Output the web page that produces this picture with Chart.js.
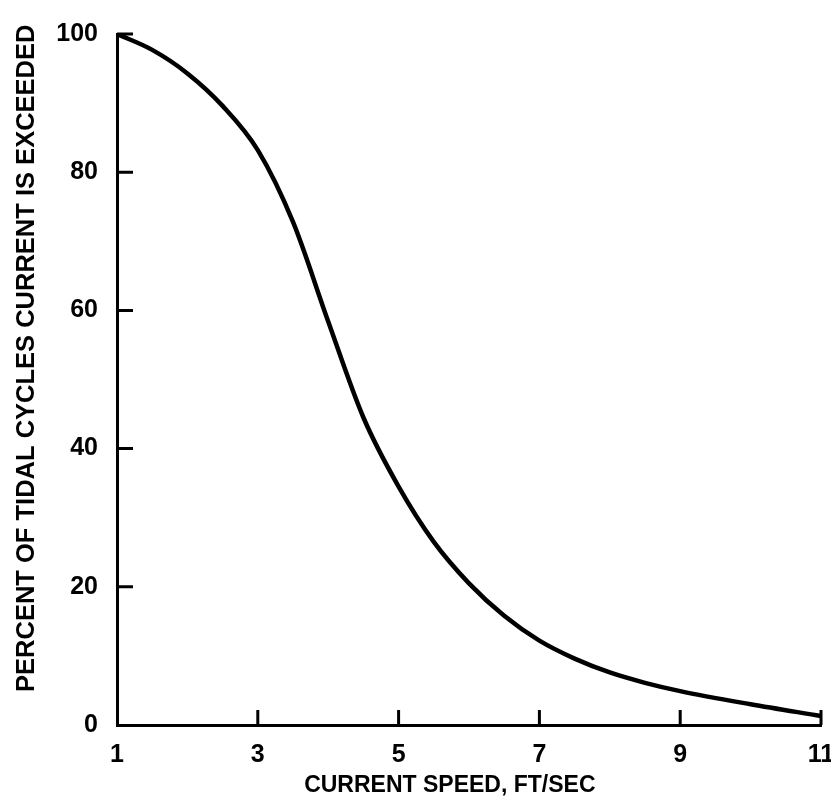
<!DOCTYPE html>
<html>
<head>
<meta charset="utf-8">
<script src="https://cdn.jsdelivr.net/npm/chart.js@4"></script>
<style>
  html, body { margin: 0; padding: 0; background: #fff; }
  #wrap { width: 831px; height: 805px; }
</style>
</head>
<body>
<div id="wrap"><canvas id="chart"></canvas></div>
<script>
// current speed (ft/sec) vs percent of tidal cycles exceeded
const speeds = [1, 1.5, 2, 2.5, 3, 3.5, 4, 4.5, 5, 5.5, 6, 6.5, 7, 7.5, 8, 8.5, 9, 10, 11]
const percents = [100, 97.7, 94.3, 89.6, 83.2, 72.8, 58.4, 44.5, 34.5, 26.5, 20.5, 15.8, 12.2, 9.6, 7.6, 6.1, 4.9, 3.0, 1.3]
const xTicks = [1, 3, 5, 7, 9, 11]
const yTicks = [0, 20, 40, 60, 80, 100]

const FONT = "'Liberation Sans', Arial, Helvetica, sans-serif"

// inward tick marks like the original drawing
const inwardTicks = {
  id: "inwardTicks",
  afterDraw(chart) {
    const { ctx, scales: { x, y } } = chart
    ctx.save()
    ctx.strokeStyle = "#000"
    ctx.lineWidth = 3
    ctx.beginPath()
    xTicks.slice(1).forEach((v) => {
      const px = x.getPixelForValue(v)
      ctx.moveTo(px, y.bottom)
      ctx.lineTo(px, y.bottom - 15)
    })
    yTicks.slice(1).forEach((v) => {
      const py = y.getPixelForValue(v)
      ctx.moveTo(x.left, py)
      ctx.lineTo(x.left + 16, py)
    })
    ctx.stroke()
    ctx.restore()
  },
}

const ctx = document.getElementById("chart").getContext("2d")
new Chart(ctx, {
  type: "line",
  data: {
    datasets: [
      {
        data: speeds.map((s, i) => ({ x: s, y: percents[i] })),
        borderColor: "#000",
        borderWidth: 4.5,
        pointRadius: 0,
        fill: false,
        cubicInterpolationMode: "monotone",
      },
    ],
  },
  options: {
    responsive: true,
    maintainAspectRatio: false,
    animation: false,
    layout: { padding: { top: 31, right: 10, left: 0, bottom: 0 } },
    plugins: { legend: { display: false }, tooltip: { enabled: false } },
    scales: {
      x: {
        type: "linear",
        min: 1,
        max: 11,
        afterBuildTicks: (scale) => { scale.ticks = xTicks.map((v) => ({ value: v })) },
        afterFit: (scale) => {
          scale.height = 80
          scale.paddingLeft = 0
          scale.paddingRight = 0
        },
        border: { display: true, color: "#000", width: 3 },
        grid: { display: false, drawTicks: false },
        ticks: {
          color: "#000",
          padding: 15,
          maxRotation: 0,
          font: { family: FONT, size: 25, weight: "bold" },
        },
        title: {
          display: true,
          // trailing spaces nudge the centred title left, as in the original
          text: "CURRENT SPEED, FT/SEC      ",
          color: "#000",
          padding: { top: 0, bottom: 6 },
          font: { family: FONT, size: 23, weight: "bold" },
        },
      },
      y: {
        min: 0,
        max: 100,
        afterBuildTicks: (scale) => { scale.ticks = yTicks.map((v) => ({ value: v })) },
        afterFit: (scale) => { scale.width = 117 },
        border: { display: true, color: "#000", width: 3 },
        grid: { display: false, drawTicks: false },
        ticks: {
          color: "#000",
          padding: 19,
          font: { family: FONT, size: 25, weight: "bold" },
        },
        title: {
          display: true,
          text: "      PERCENT OF TIDAL CYCLES CURRENT IS EXCEEDED",
          color: "#000",
          padding: { top: 12, bottom: 0 },
          font: { family: FONT, size: 25.5, weight: "bold" },
        },
      },
    },
  },
  plugins: [inwardTicks],
})
</script>
</body>
</html>
